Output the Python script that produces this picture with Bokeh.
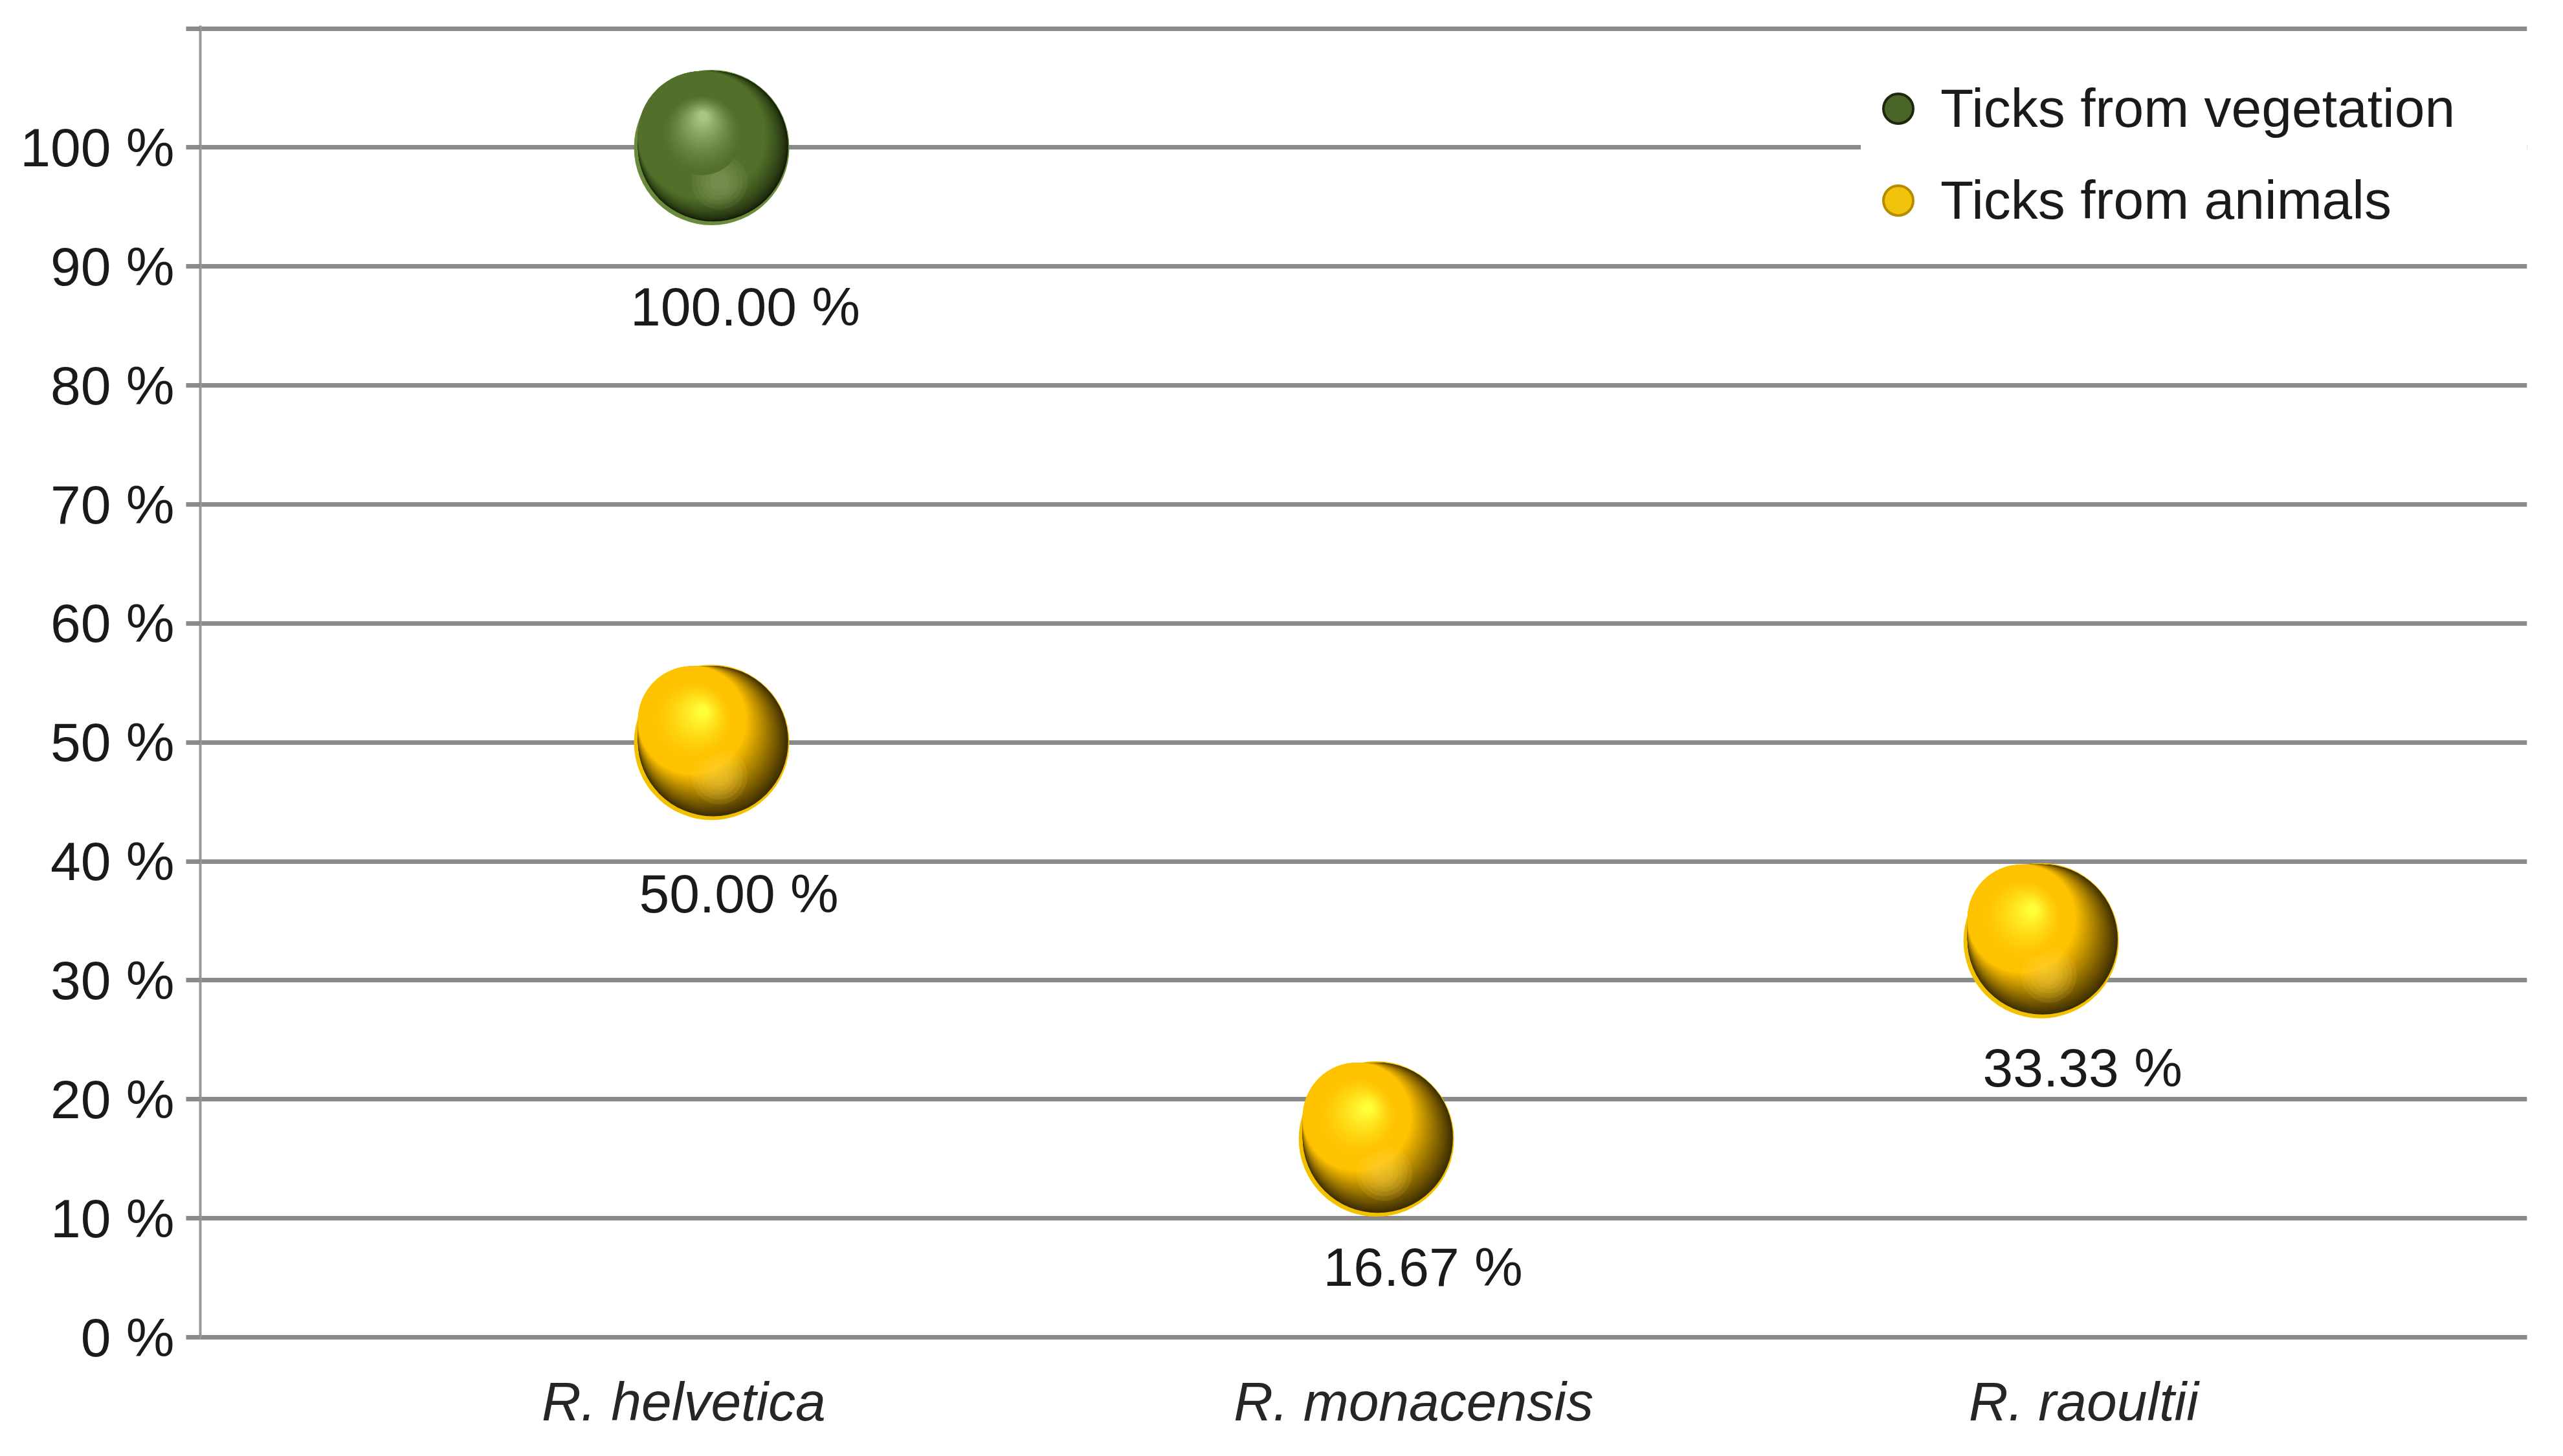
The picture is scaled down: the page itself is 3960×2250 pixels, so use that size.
from bokeh.plotting import figure
from bokeh.models import FixedTicker, Range1d, Legend, LegendItem, ColumnDataSource
from bokeh.transform import dodge
from bokeh.core.properties import value
from bokeh.embed import file_html
from bokeh.resources import INLINE

# ---------------- data ----------------
species = ["R. helvetica", "R. monacensis", "R. raoultii"]
species_x = [1, 2, 3]
series_names = ["Ticks from vegetation", "Ticks from animals"]
veg_x = [1]
veg_pct = [100.00]
ani_x = [1, 2, 3]
ani_pct = [50.00, 16.67, 33.33]
y_ticks = [0, 10, 20, 30, 40, 50, 60, 70, 80, 90, 100, 110]

# ---------------- layout / style ----------------
W, H = 3944, 2234
ML, MR, MT, MB = 309, 40, 39, 168
X0, X1 = 0.2308, 3.731
Y0, Y1 = 0, 110.25
FW = W - ML - MR
FH = H - MT - MB
PX_X = FW / (X1 - X0)   # screen px per x unit
PX_Y = FH / (Y1 - Y0)   # screen px per y unit
D = 240                 # bubble diameter (px)
FONT = "Liberation Sans"
FS = "84px"
GRID = "#8a8a8a"
label_nudge = [-0.042, 0.056, 0.064]   # category label nudges (style)
# data-label offsets in screen px (style), per point
veg_lab_dx, veg_lab_dy = [52], [246]
ani_lab_dx, ani_lab_dy = [42, 72, 64], [234, 198, 196]

p = figure(width=W, height=H, output_backend="svg", toolbar_location=None,
           x_range=Range1d(X0, X1), y_range=Range1d(Y0, Y1),
           min_border_left=ML, min_border_right=MR, min_border_top=MT,
           min_border_bottom=MB)
p.outline_line_color = None
p.background_fill_color = "white"
p.border_fill_color = "white"

# grid
p.xgrid.grid_line_color = None
p.ygrid.grid_line_color = GRID
p.ygrid.grid_line_width = 7
p.ygrid.ticker = FixedTicker(ticks=y_ticks)

# y axis
ya = p.yaxis[0]
ya.ticker = FixedTicker(ticks=y_ticks)
ya.major_label_overrides = {t: (f"{t} %" if t <= 100 else "") for t in y_ticks}
ya.axis_line_color = "#9a9a9a"
ya.axis_line_width = 4
ya.major_tick_line_color = GRID
ya.major_tick_line_width = 7
ya.major_tick_out = 22
ya.major_tick_in = 0
ya.minor_tick_line_color = None
ya.major_label_standoff = 18
ya.major_label_text_font = FONT
ya.major_label_text_font_size = FS
ya.major_label_text_color = "#1a1a1a"

# x axis
xa = p.xaxis[0]
tick_pos = [sx + n for sx, n in zip(species_x, label_nudge)]
xa.ticker = FixedTicker(ticks=tick_pos)
xa.major_label_overrides = {t: s for t, s in zip(tick_pos, species)}
xa.axis_line_color = GRID
xa.axis_line_width = 7
xa.major_tick_line_color = None
xa.major_tick_out = 0
xa.major_tick_in = 0
xa.minor_tick_line_color = None
xa.major_label_standoff = 52
xa.major_label_text_font = FONT
xa.major_label_text_font_size = FS
xa.major_label_text_font_style = "italic"
xa.major_label_text_color = "#262626"


def hex2rgb(h):
    h = h.lstrip("#")
    return tuple(int(h[i:i + 2], 16) for i in (0, 2, 4))


def lerp(c1, c2, t):
    a, b = hex2rgb(c1), hex2rgb(c2)
    return "#%02x%02x%02x" % tuple(int(round(a[i] + (b[i] - a[i]) * t)) for i in range(3))


def layer(src, size, dx, dy, color, alpha=1.0, line=None, lw=0):
    # dx, dy in screen px (dy positive = down)
    return p.scatter(x=dodge("x", dx / PX_X), y=dodge("y", -dy / PX_Y), source=src,
                     size=size, fill_color=color, fill_alpha=alpha,
                     line_color=line, line_width=lw)


def sphere(src, rim, shadow, body, hi, refl, s_end, gam, leg_fill, leg_line):
    # legend proxy, hidden under the sphere
    proxy = layer(src, D * 0.8, 0, 0, leg_fill, line=leg_line, lw=4)
    layer(src, D, 0, 0, rim)
    K = 24
    for i in range(K):
        t = i / (K - 1)
        s = 0.968 - (0.968 - s_end) * t
        cx = -0.475 + s / 2
        cy = -0.492 + s / 2
        layer(src, D * s, D * cx, D * cy, lerp(shadow, body, t ** gam))
    # soft reflection at the bottom
    for i in range(5):
        t = i / 4
        s = 0.36 - 0.24 * t
        layer(src, D * s, D * 0.05, D * 0.22, refl, 0.12)
    M = 22
    bx, by = -0.475 + s_end / 2, -0.492 + s_end / 2
    for i in range(M):
        t = i / (M - 1)
        s = 0.52 - 0.46 * t
        cx = bx + (-0.055 - bx) * t
        cy = by + (-0.20 - by) * t
        layer(src, D * s, D * cx, D * cy, lerp(body, hi, t ** 1.4))
    return proxy


veg_src = ColumnDataSource(data=dict(x=veg_x, y=veg_pct,
                                     lab=[f"{v:.2f} %" for v in veg_pct],
                                     dx=veg_lab_dx, dy=veg_lab_dy))
ani_src = ColumnDataSource(data=dict(x=ani_x, y=ani_pct,
                                     lab=[f"{v:.2f} %" for v in ani_pct],
                                     dx=ani_lab_dx, dy=ani_lab_dy))

leg_veg = sphere(veg_src, rim="#6a8a3c", shadow="#111905", body="#52702a", hi="#a9c684",
                 refl="#9ab070", s_end=0.82, gam=0.6,
                 leg_fill="#4a6327", leg_line="#1c280b")
leg_ani = sphere(ani_src, rim="#f2c200", shadow="#3e2e00", body="#ffc200", hi="#ffff3a",
                 refl="#ffd84a", s_end=0.70, gam=0.95,
                 leg_fill="#f2c30c", leg_line="#b58c00")

# data labels
for src in (veg_src, ani_src):
    p.text(x="x", y="y", text="lab", source=src, x_offset="dx", y_offset="dy",
           text_align="center", text_baseline="middle",
           text_font=value(FONT), text_font_size=FS, text_color="#1a1a1a")

legend = Legend(items=[LegendItem(label=series_names[0], renderers=[leg_veg]),
                       LegendItem(label=series_names[1], renderers=[leg_ani])],
                location=(2566, 1694), orientation="vertical")
legend.glyph_width = 115
legend.glyph_height = 125
legend.label_height = 125
legend.label_width = 1100
legend.label_standoff = 8
legend.spacing = 17
legend.padding = 10
legend.margin = 0
legend.border_line_color = None
legend.background_fill_color = "white"
legend.background_fill_alpha = 1.0
legend.label_text_font = FONT
legend.label_text_font_size = FS
legend.label_text_color = "#1a1a1a"
legend.label_text_baseline = "middle"
p.add_layout(legend)

open("out.html", "w").write(file_html(p, INLINE))
